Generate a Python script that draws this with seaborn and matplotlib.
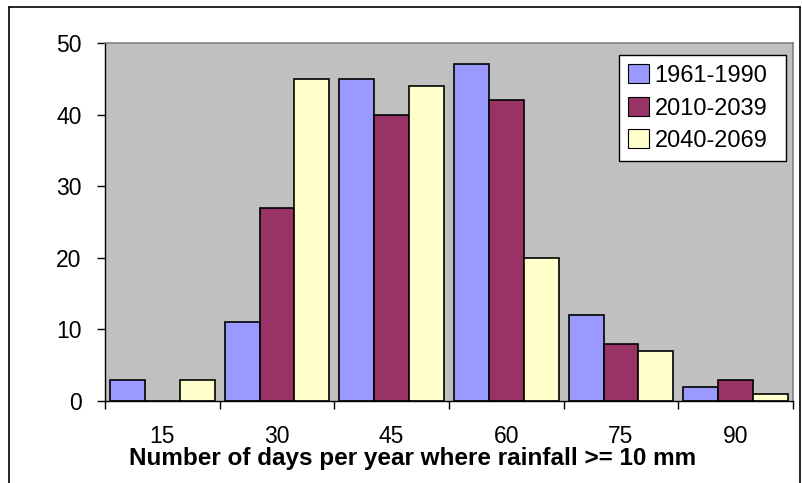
import matplotlib
matplotlib.use("Agg")
import matplotlib.pyplot as plt
import seaborn as sns
import pandas as pd
from matplotlib.patches import Rectangle
from matplotlib.lines import Line2D

# Days per year with rainfall >= 10 mm, binned
categories = ["15", "30", "45", "60", "75", "90"]
series_names = ["1961-1990", "2010-2039", "2040-2069"]
values_1961_1990 = [3, 11, 45, 47, 12, 2]
values_2010_2039 = [0, 27, 40, 42, 8, 3]
values_2040_2069 = [3, 45, 44, 20, 7, 1]
y_ticks = [0, 10, 20, 30, 40, 50]

colors = ["#9999FF", "#993366", "#FFFFCC"]

df = pd.DataFrame({
    "bin": categories * 3,
    "period": [s for s in series_names for _ in categories],
    "count": values_1961_1990 + values_2010_2039 + values_2040_2069,
})

sns.set_theme(style="white")
plt.rcParams["font.family"] = ["Liberation Sans", "DejaVu Sans"]
plt.rcParams["text.color"] = "black"
plt.rcParams["xtick.color"] = "black"
plt.rcParams["ytick.color"] = "black"
plt.rcParams["axes.labelcolor"] = "black"

fig = plt.figure(figsize=(8.02, 4.83), dpi=100)
W, H = 802, 483
x0, x1, y_top, y_bot = 105, 793, 43, 401
ax = fig.add_axes([x0 / W, (H - y_bot) / H, (x1 - x0) / W, (y_bot - y_top) / H])
ax.set_facecolor("#C0C0C0")

sns.barplot(data=df, x="bin", y="count", hue="period", order=categories,
            hue_order=series_names, palette=colors, width=0.915,
            edgecolor="black", linewidth=1.2, saturation=1, ax=ax)

ax.set_xlim(-0.5, len(categories) - 0.5)
ax.set_ylim(0, 50)
ax.set_yticks(y_ticks)
ax.set_yticklabels([str(t) for t in y_ticks], fontsize=16.5)
ax.tick_params(axis="y", direction="out", length=6, width=1, color="black",
               pad=11, left=True, labelcolor="black")

# category labels without marks; marks sit between categories
ax.set_xticks(range(len(categories)))
ax.set_xticklabels(categories, fontsize=16.5)
ax.tick_params(axis="x", which="major", length=0, pad=17, labelcolor="black")
ax.set_xticks([i - 0.5 for i in range(len(categories) + 1)], minor=True)
ax.tick_params(axis="x", which="minor", direction="out", length=6, width=1,
               color="black", bottom=True)

ax.set_xlabel("Number of days per year where rainfall >= 10 mm",
              fontsize=17.5, fontweight="bold", color="black", va="baseline")
ax.xaxis.set_label_coords((413 - x0) / (x1 - x0), (y_bot - 465) / (y_bot - y_top))
ax.set_ylabel("")

for side in ["top", "right"]:
    ax.spines[side].set_color("#808080")
    ax.spines[side].set_linewidth(1.2)
for side in ["left", "bottom"]:
    ax.spines[side].set_color("black")
    ax.spines[side].set_linewidth(1)

handles = [Rectangle((0, 0), 1, 1, facecolor=c, edgecolor="black", linewidth=0.8)
           for c in colors]
lx0 = (619 - x0) / (x1 - x0)
lx1 = (786 - x0) / (x1 - x0)
ly1 = (y_bot - 55) / (y_bot - y_top)
leg = ax.legend(handles, series_names, loc="upper left",
                bbox_to_anchor=(lx0, ly1 - 0.3, lx1 - lx0, 0.3), mode="expand",
                fontsize=17, frameon=True, fancybox=False, shadow=False,
                handlelength=0.85, handleheight=0.85, handletextpad=0.25,
                labelspacing=0.42, borderpad=0.4, borderaxespad=0)
leg.get_frame().set_edgecolor("black")
leg.get_frame().set_linewidth(1)
leg.get_frame().set_facecolor("white")
leg.get_frame().set_alpha(1)

# chart border
fig.add_artist(Line2D([9 / W, 9 / W], [0, 1 - 7 / H], color="black", lw=1.2))
fig.add_artist(Line2D([9 / W, 800 / W], [1 - 7 / H, 1 - 7 / H], color="black", lw=1.2))
fig.add_artist(Line2D([800 / W, 800 / W], [0, 1 - 7 / H], color="black", lw=1.2))

fig.savefig("out.png", dpi=100, facecolor="white")
